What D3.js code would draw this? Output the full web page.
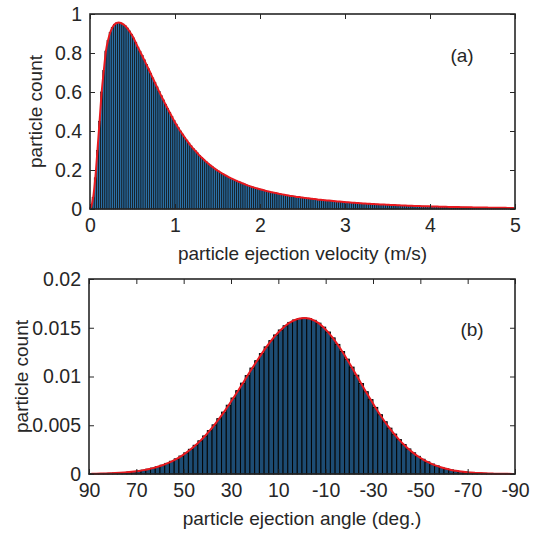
<!DOCTYPE html>
<html>
<head>
<meta charset="utf-8">
<script src="https://cdn.jsdelivr.net/npm/d3@7"></script>
<style>
  body { margin: 0; background: #fff; }
  text { font-family: "Liberation Sans", Arial, sans-serif; fill: #262626; }
</style>
</head>
<body>
<div id="chart"></div>
<script>
/**
 * DATA
 * */
// panel (a): histogram bins of 0.025 m/s, starting at 0
const velocityBinStart = 0,
  velocityBinWidth = 0.025;
const velocityCounts = [
  0.01, 0.06, 0.16, 0.3, 0.45, 0.6, 0.71, 0.81, 0.865, 0.905,
  0.93, 0.946, 0.954, 0.956, 0.954, 0.948, 0.94, 0.928, 0.913, 0.896,
  0.877, 0.854, 0.83, 0.809, 0.787, 0.765, 0.742, 0.719, 0.696, 0.672,
  0.649, 0.626, 0.603, 0.581, 0.559, 0.537, 0.516, 0.495, 0.474, 0.454,
  0.435, 0.417, 0.4, 0.384, 0.368, 0.353, 0.338, 0.324, 0.311, 0.299,
  0.287, 0.275, 0.264, 0.254, 0.244, 0.234, 0.225, 0.217, 0.209, 0.201,
  0.194, 0.187, 0.18, 0.174, 0.168, 0.162, 0.157, 0.152, 0.147, 0.142,
  0.138, 0.133, 0.129, 0.124, 0.12, 0.116, 0.113, 0.109, 0.106, 0.103,
  0.1, 0.097, 0.094, 0.091, 0.089, 0.086, 0.084, 0.082, 0.079, 0.077,
  0.075, 0.073, 0.071, 0.069, 0.067, 0.066, 0.064, 0.062, 0.061, 0.059,
  0.058, 0.056, 0.055, 0.054, 0.052, 0.051, 0.05, 0.048, 0.047, 0.046,
  0.045, 0.044, 0.043, 0.042, 0.041, 0.04, 0.039, 0.038, 0.037, 0.036,
  0.035, 0.0342, 0.0334, 0.0326, 0.0318, 0.031, 0.0302, 0.0295, 0.0288, 0.0281,
  0.0274, 0.0267, 0.0261, 0.0254, 0.0248, 0.0242, 0.0236, 0.023, 0.0225, 0.0219,
  0.0214, 0.0209, 0.0204, 0.0199, 0.0194, 0.0189, 0.0185, 0.018, 0.0176, 0.0172,
  0.0168, 0.0164, 0.016, 0.0156, 0.0152, 0.0148, 0.0145, 0.0141, 0.0138, 0.0135,
  0.0132, 0.0129, 0.0126, 0.0123, 0.012, 0.0117, 0.0114, 0.0112, 0.0109, 0.0107,
  0.0104, 0.0102, 0.01, 0.0097, 0.0095, 0.0093, 0.0091, 0.0089, 0.0087, 0.0085,
  0.0083, 0.0081, 0.0079, 0.0077, 0.0075, 0.0073, 0.0072, 0.007, 0.0068, 0.0067,
  0.0065, 0.0064, 0.0062, 0.0061, 0.0059, 0.0058, 0.0057, 0.0055, 0.0054, 0.0053
];
const velocityTicks = [0, 1, 2, 3, 4, 5];
const velocityCountTicks = [0, 0.2, 0.4, 0.6, 0.8, 1];

// panel (b): histogram bins of 2 deg, from +90 down to -90
const angleBinStart = 90,
  angleBinWidth = 2;
const angleCounts = [
  0.000025, 0.000033, 0.000043, 0.000057, 0.000074, 0.000096, 0.000123, 0.000157, 0.0002, 0.000253,
  0.000317, 0.000396, 0.000491, 0.000604, 0.000739, 0.000898, 0.001085, 0.001302, 0.001552, 0.00184,
  0.002165, 0.002533, 0.002944, 0.0034, 0.003902, 0.004448, 0.00504, 0.005674, 0.006346, 0.007053,
  0.007789, 0.008547, 0.009317, 0.010093, 0.010864, 0.011618, 0.012349, 0.013037, 0.013678, 0.014261,
  0.01477, 0.015202, 0.015546, 0.015797, 0.015949, 0.016, 0.01594, 0.01576, 0.01547, 0.01506,
  0.01456, 0.01396, 0.01329, 0.01256, 0.01178, 0.01096, 0.01013, 0.00928, 0.00844, 0.00763,
  0.00683, 0.00608, 0.00536, 0.0047, 0.00409, 0.00353, 0.00302, 0.00257, 0.00217, 0.00181,
  0.00151, 0.00124, 0.00102, 0.00083, 0.00067, 0.00053, 0.00042, 0.00033, 0.00026, 0.0002,
  0.000156, 0.000119, 0.00009, 0.000068, 0.000051, 0.000038, 0.000028, 0.00002, 0.000015, 0.00001
];
const angleTicks = [90, 70, 50, 30, 10, -10, -30, -50, -70, -90];
const angleCountTicks = [0, 0.005, 0.01, 0.015, 0.02];

/**
 * CONSTANTS
 * */
const width = 538,
  height = 538,
  tickFont = 19.5,
  labelFont = 19;

// plain hyphen for negatives, no trailing zeros (MATLAB look)
const plainFormat = d => String(+d.toPrecision(6));

const svg = d3.select("#chart")
  .append("svg")
  .attr("width", width)
  .attr("height", height);

// one panel = histogram + red fit line + boxed axes
function drawPanel(opts) {
  const { box, xDomain, yDomain, bins, xTicks, yTicks, xLabel, tag, tagPos, barFill, barStroke, yLabelX } = opts;

  const x = d3.scaleLinear().domain(xDomain).range([box.left, box.right]);
  const y = d3.scaleLinear().domain(yDomain).range([box.bottom, box.top]);

  const g = svg.append("g");

  // bars
  g.append("g")
    .selectAll("rect")
    .data(bins)
    .join("rect")
    .attr("x", d => Math.min(x(d.x0), x(d.x1)))
    .attr("width", d => Math.abs(x(d.x1) - x(d.x0)))
    .attr("y", d => y(d.value))
    .attr("height", d => y(0) - y(d.value))
    .attr("fill", barFill)
    .attr("stroke", barStroke.color)
    .attr("stroke-width", barStroke.width);

  // red fit line through bin centres
  let linePts = bins.map(d => [(d.x0 + d.x1) / 2, d.value]);
  if (opts.lineStart) linePts = [opts.lineStart].concat(linePts);
  g.append("path")
    .datum(linePts)
    .attr("fill", "none")
    .attr("stroke", "#e8191f")
    .attr("stroke-width", 2)
    .attr("d", d3.line().x(d => x(d[0])).y(d => y(d[1])).curve(d3.curveMonotoneX));

  // axes: ticks pointing inward on all four sides
  const axisColor = "#262626";
  const bottomAxis = g.append("g")
    .attr("transform", `translate(0,${box.bottom})`)
    .call(d3.axisBottom(x).tickValues(xTicks).tickSizeInner(-5).tickSizeOuter(0).tickPadding(9).tickFormat(plainFormat));
  const topAxis = g.append("g")
    .attr("transform", `translate(0,${box.top})`)
    .call(d3.axisTop(x).tickValues(xTicks).tickSizeInner(-5).tickSizeOuter(0).tickFormat(""));
  const leftAxis = g.append("g")
    .attr("transform", `translate(${box.left},0)`)
    .call(d3.axisLeft(y).tickValues(yTicks).tickSizeInner(-5).tickSizeOuter(0).tickPadding(8).tickFormat(plainFormat));
  const rightAxis = g.append("g")
    .attr("transform", `translate(${box.right},0)`)
    .call(d3.axisRight(y).tickValues(yTicks).tickSizeInner(-5).tickSizeOuter(0).tickFormat(""));

  [bottomAxis, topAxis, leftAxis, rightAxis].forEach(a => {
    a.select(".domain").remove();
    a.selectAll(".tick line").attr("stroke", axisColor).attr("stroke-width", 1);
    a.selectAll(".tick text")
      .attr("font-size", tickFont)
      .attr("font-family", "Liberation Sans, Arial, sans-serif")
      .attr("fill", axisColor);
  });

  // box
  g.append("rect")
    .attr("x", box.left)
    .attr("y", box.top)
    .attr("width", box.right - box.left)
    .attr("height", box.bottom - box.top)
    .attr("fill", "none")
    .attr("stroke", axisColor)
    .attr("stroke-width", 1.6);

  // labels
  g.append("text")
    .attr("x", (box.left + box.right) / 2)
    .attr("y", box.bottom + 51)
    .attr("text-anchor", "middle")
    .attr("font-size", labelFont)
    .text(xLabel);

  g.append("text")
    .attr("transform", `translate(${yLabelX},${(box.top + box.bottom) / 2}) rotate(-90)`)
    .attr("text-anchor", "middle")
    .attr("font-size", labelFont)
    .text("particle count");

  g.append("text")
    .attr("x", tagPos[0])
    .attr("y", tagPos[1])
    .attr("text-anchor", "middle")
    .attr("font-size", labelFont)
    .text(tag);
}

// panel (a)
drawPanel({
  box: { left: 90, right: 515, top: 14, bottom: 209 },
  xDomain: [0, 5],
  yDomain: [0, 1],
  bins: velocityCounts.map((v, i) => ({
    x0: velocityBinStart + i * velocityBinWidth,
    x1: velocityBinStart + (i + 1) * velocityBinWidth,
    value: v
  })),
  lineStart: [0, 0],
  xTicks: velocityTicks,
  yTicks: velocityCountTicks,
  xLabel: "particle ejection velocity (m/s)",
  tag: "(a)",
  tagPos: [462, 62],
  barFill: "#2b70a6",
  barStroke: { color: "#0a0a0a", width: 0.65 },
  yLabelX: 42
});

// panel (b)
drawPanel({
  box: { left: 89, right: 515, top: 279, bottom: 474 },
  xDomain: [90, -90],
  yDomain: [0, 0.02],
  bins: angleCounts.map((v, i) => ({
    x0: angleBinStart - i * angleBinWidth,
    x1: angleBinStart - (i + 1) * angleBinWidth,
    value: v
  })),
  lineStart: null,
  xTicks: angleTicks,
  yTicks: angleCountTicks,
  xLabel: "particle ejection angle (deg.)",
  tag: "(b)",
  tagPos: [472, 336],
  barFill: "#1d4c73",
  barStroke: { color: "#050505", width: 1 },
  yLabelX: 28
});
</script>
</body>
</html>
